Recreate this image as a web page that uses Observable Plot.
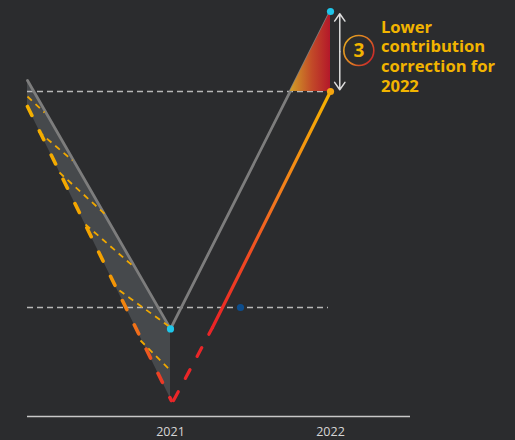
<!DOCTYPE html>
<html>
<head>
<meta charset="utf-8">
<script src="https://cdn.jsdelivr.net/npm/d3@7"></script>
<script src="https://cdn.jsdelivr.net/npm/@observablehq/plot@0.6"></script>
<style>
  html, body { margin: 0; padding: 0; background: #2b2c2e; }
  #chart svg { display: block; }
</style>
</head>
<body>
<div id="chart"></div>
<script>
// ---- data (x in years, y in arbitrary chart units) ----
const tickYears = [2021, 2022];

// grey "actual" path
const greyX = [2020.10625, 2021, 2022];
const greyY = [84, 21.9, 101.25];

// shaded uncertainty band ending at 2021
const bandX = [2020.10625, 2021];
const bandLow = [77.5, 4.5];
const bandHigh = [84, 21.9];

// thick dashed projection into 2021
const thickX = [2020.10625, 2021.005];
const thickY = [77.5, 4];

// red recovery path (dashed part then solid part)
const redDashX = [2021.019, 2021.2625];
const redDashY = [4, 22.25];
const redSolidX = [2021.2625, 2022];
const redSolidY = [22.25, 81.25];

// thin dashed lines inside the band
const thinX1 = [2020.10625, 2020.175, 2020.306, 2020.469, 2020.681, 2020.8125];
const thinY1 = [80, 71.25, 61, 48, 31.5, 19];
const thinX2 = [2020.2125, 2020.3875, 2020.6, 2020.769, 2021, 2020.9875];
const thinY2 = [76, 64, 50.25, 37.5, 22.25, 12];

// horizontal reference levels
const refLevels = [81.25, 27.25];
const refStartX = [2020.10625, 2020.10625];
const refEndX = [2022, 2021.9875];

// points
const cyanX = [2021, 2022];
const cyanY = [21.9, 101.25];
const endDotX = [2022];
const endDotY = [81.25];
const blueDotX = [2021.4375];
const blueDotY = [27.25];

// correction triangle
const triX = [2021.748, 2022];
const triLow = [81.25, 81.25];
const triHigh = [81.25, 101.25];

// double arrow
const arrowX = 2022.058;
const arrowMid = 91.2;
const arrowEnds = [100.7, 81.7];

// annotation
const badgeX = [2022.177];
const badgeY = [91.5];
const badgeLabel = ["3"];
const noteX = [2022.315];
const noteY = [99.4];
const noteLines = ["Lower", "contribution", "correction for", "2022"];

const idx = a => a.map((_, i) => i);

const chart = Plot.plot({
  width: 515,
  height: 440,
  marginLeft: 27,
  marginRight: 105,
  marginTop: 11,
  marginBottom: 24,
  style: { background: "#2b2c2e", fontFamily: "'Open Sans', sans-serif", overflow: "visible" },
  x: { domain: [2020.10625, 2022.5] },
  y: { domain: [0, 101.25], axis: null },
  marks: [
    Plot.areaY(idx(bandX), { x: i => bandX[i], y1: i => bandLow[i], y2: i => bandHigh[i], fill: "#46494c", curve: "linear" }),
    Plot.ruleY(idx(refLevels), { y: i => refLevels[i], x1: i => refStartX[i], x2: i => refEndX[i], stroke: "#b8b8b8", strokeWidth: 1.6, strokeDasharray: "6,4" }),
    Plot.line(idx(greyX), { x: i => greyX[i], y: i => greyY[i], stroke: "#7d7d7d", strokeWidth: 2.8 }),
    Plot.link(idx(thinX1), { x1: i => thinX1[i], y1: i => thinY1[i], x2: i => thinX2[i], y2: i => thinY2[i], stroke: "#f0a800", strokeWidth: 1.8, strokeDasharray: "6,5" }),
    Plot.line(idx(thickX), { x: i => thickX[i], y: i => thickY[i], stroke: "url(#gThick)", strokeWidth: 3.6, strokeDasharray: "10,17", strokeLinecap: "round" }),
    Plot.line(idx(redDashX), { x: i => redDashX[i], y: i => redDashY[i], stroke: "#ea2628", strokeWidth: 3.2, strokeDasharray: "10,15", strokeLinecap: "round" }),
    Plot.line(idx(redSolidX), { x: i => redSolidX[i], y: i => redSolidY[i], stroke: "url(#gSolid)", strokeWidth: 3.2 }),
    Plot.areaY(idx(triX), { x: i => triX[i], y1: i => triLow[i], y2: i => triHigh[i], fill: "url(#gTri)" }),
    Plot.ruleY([0], { stroke: "#c8c8c8", strokeWidth: 1.6 }),
    Plot.axisX(tickYears, { tickSize: 0, tickPadding: 11, tickFormat: d => String(d), fill: "#d6d6d6", fontSize: 12.5, label: null }),
    Plot.dot(idx(blueDotX), { x: i => blueDotX[i], y: i => blueDotY[i], r: 3.6, fill: "#0d4d8c" }),
    Plot.dot(idx(endDotX), { x: i => endDotX[i], y: i => endDotY[i], r: 3.6, fill: "#f4a510" }),
    Plot.dot(idx(cyanX), { x: i => cyanX[i], y: i => cyanY[i], r: 3.6, fill: "#1fc6ea" }),
    Plot.arrow(arrowEnds, { x1: arrowX, y1: arrowMid, x2: arrowX, y2: d => d, stroke: "#dcdcdc", strokeWidth: 1.5, headLength: 9, headAngle: 70, bend: 0 }),
    Plot.dot(idx(badgeX), { x: i => badgeX[i], y: i => badgeY[i], r: 15, fill: "none", stroke: "url(#gBadge)", strokeWidth: 1.6 }),
    Plot.text(idx(badgeX), { x: i => badgeX[i], y: i => badgeY[i], text: i => badgeLabel[i], fill: "#f2b400", fontSize: 19, fontWeight: "bold" }),
    Plot.text(idx(noteX), { x: i => noteX[i], y: i => noteY[i], text: () => noteLines.join("\n"), textAnchor: "start", lineAnchor: "top", lineHeight: 1.18, fill: "#f2b400", fontSize: 16.6, fontWeight: "bold" })
  ]
});

const defs = document.createElementNS("http://www.w3.org/2000/svg", "defs");
defs.innerHTML = `
  <linearGradient id="gThick" x1="0" y1="0" x2="1" y2="1">
    <stop offset="0" stop-color="#f4b000"/>
    <stop offset="0.55" stop-color="#f3a000"/>
    <stop offset="0.78" stop-color="#f06a1c"/>
    <stop offset="1" stop-color="#e8262a"/>
  </linearGradient>
  <linearGradient id="gSolid" x1="0" y1="1" x2="0" y2="0">
    <stop offset="0" stop-color="#ea2226"/>
    <stop offset="0.3" stop-color="#f04a22"/>
    <stop offset="0.55" stop-color="#f27a1e"/>
    <stop offset="1" stop-color="#f6b400"/>
  </linearGradient>
  <linearGradient id="gTri" x1="0" y1="0" x2="1" y2="0">
    <stop offset="0" stop-color="#d2a026"/>
    <stop offset="0.55" stop-color="#c24a28"/>
    <stop offset="1" stop-color="#b4182a"/>
  </linearGradient>
  <linearGradient id="gBadge" x1="0" y1="0.2" x2="1" y2="0.8">
    <stop offset="0" stop-color="#e6a620"/>
    <stop offset="0.5" stop-color="#de7a22"/>
    <stop offset="1" stop-color="#c8202a"/>
  </linearGradient>`;
chart.insertBefore(defs, chart.firstChild);
document.getElementById("chart").appendChild(chart);
</script>
</body>
</html>
